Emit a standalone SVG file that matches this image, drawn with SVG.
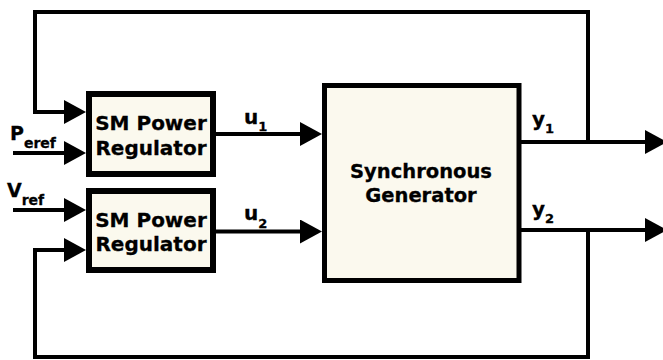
<svg xmlns="http://www.w3.org/2000/svg" width="663" height="360" viewBox="0 0 663 360">
<defs>
<style>
.box{fill:#FBF9EE;stroke:#000;}
.lbl{font-family:"DejaVu Sans","Verdana",sans-serif;font-weight:bold;fill:#000;stroke:#000;stroke-width:0.3;}
.conn{fill:none;stroke:#000;stroke-width:4;}
</style>
<marker id="ah" viewBox="0 0 22 24" refX="0" refY="12" markerWidth="22" markerHeight="24" markerUnits="userSpaceOnUse" orient="auto">
<path d="M0,0 L22,12 L0,24 Z" fill="#000"/>
</marker>
</defs>
<rect width="663" height="360" fill="#fff"/>
<g id="connectors">
<path class="conn" d="M588,142 V12 H35 V112 H64" marker-end="url(#ah)"/>
<path class="conn" d="M13,153 H64" marker-end="url(#ah)"/>
<path class="conn" d="M13,210 H64" marker-end="url(#ah)"/>
<path class="conn" d="M588,230 V357 H35 V250 H64" marker-end="url(#ah)"/>
<path class="conn" d="M216,134 H300" marker-end="url(#ah)"/>
<path class="conn" d="M216,231.5 H300" marker-end="url(#ah)"/>
<path class="conn" d="M521,142 H645" marker-end="url(#ah)"/>
<path class="conn" d="M521,230 H645" marker-end="url(#ah)"/>
<text class="lbl" x="10" y="140" font-size="19">P<tspan font-size="14" dy="8">eref</tspan></text>
<text class="lbl" x="7" y="197" font-size="19">V<tspan font-size="14" dy="8">ref</tspan></text>
<text class="lbl" x="244" y="124" font-size="20">u<tspan font-size="13" dy="7">1</tspan></text>
<text class="lbl" x="244" y="220" font-size="20">u<tspan font-size="13" dy="8">2</tspan></text>
<text class="lbl" x="532" y="126" font-size="20">y<tspan font-size="13" dy="7">1</tspan></text>
<text class="lbl" x="532" y="216" font-size="20">y<tspan font-size="13" dy="7">2</tspan></text>
</g>
<g id="regulator1">
<rect class="box" x="89" y="94" width="124" height="80" stroke-width="6"/>
<text class="lbl" x="151" y="130" font-size="20" text-anchor="middle">SM Power</text>
<text class="lbl" x="151" y="155" font-size="20" text-anchor="middle">Regulator</text>
</g>
<g id="regulator2">
<rect class="box" x="89" y="191" width="124" height="79" stroke-width="6"/>
<text class="lbl" x="151" y="227" font-size="20" text-anchor="middle">SM Power</text>
<text class="lbl" x="151" y="251" font-size="20" text-anchor="middle">Regulator</text>
</g>
<g id="generator">
<rect class="box" x="324.5" y="85.5" width="194.5" height="195" stroke-width="5"/>
<text class="lbl" x="421" y="178" font-size="19.5" text-anchor="middle">Synchronous</text>
<text class="lbl" x="421" y="202" font-size="19.5" text-anchor="middle">Generator</text>
</g>
</svg>
